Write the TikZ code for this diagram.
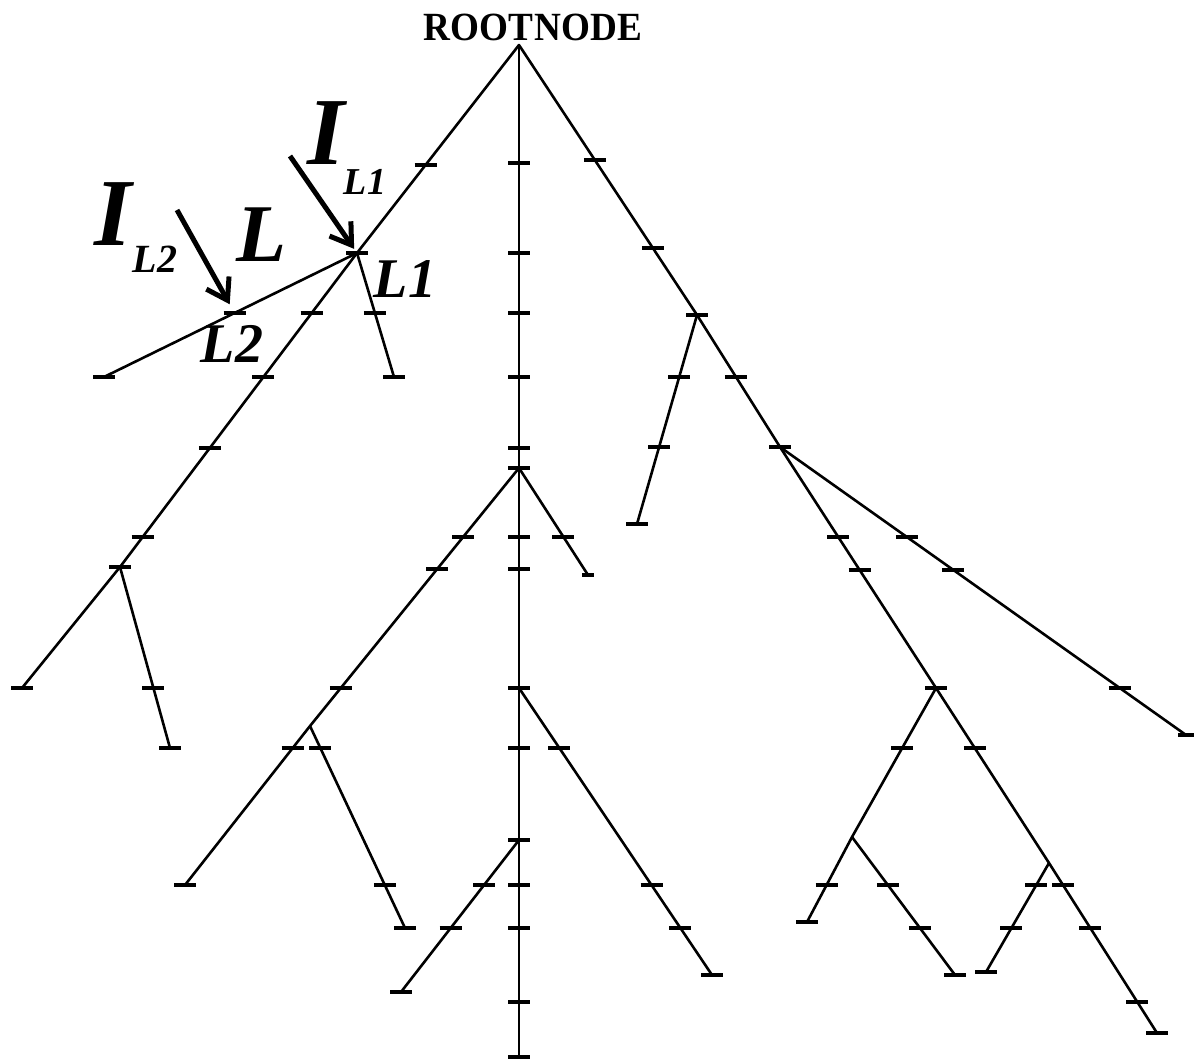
\documentclass[tikz,border=0pt]{standalone}
\usepackage{fontspec}
\setmainfont{Liberation Serif}
\usetikzlibrary{calc,arrows.meta}
\tikzset{
  br/.style={line width=1.3pt, line cap=round},
  tick/.style={line width=1.7pt},
  arr/.style={line width=2.5pt, -{Straight Barb[length=10pt,width=13pt]}},
  lbl/.style={inner sep=0pt, outer sep=0pt, anchor=center, font=\bfseries\itshape}
}
\newcommand\tk[1]{\draw[tick] ([xshift=-5.5pt]#1) -- ([xshift=5.5pt]#1);}
\newcommand\tkY[3]{\coordinate (tmp) at (intersection of #1--#2 and 0,#3--1,#3);\tk{tmp}}
\begin{document}
\begin{tikzpicture}[x=0.5pt,y=-0.5pt]
\fill[white] (0,0) rectangle (1198,1059);
\useasboundingbox (0,0) rectangle (1198,1059);
% branch points
\coordinate (root) at (519,45);
\coordinate (L1) at (357,253);
\coordinate (Lend) at (104,377);
\coordinate (L1e) at (394,377);
\coordinate (A) at (120,567);
\coordinate (Ae1) at (22,688);
\coordinate (Ae2) at (170,748);
\coordinate (C1) at (519,468);
\coordinate (C2) at (519,688);
\coordinate (C3) at (519,840);
\coordinate (Ce) at (519,1057);
\coordinate (B) at (310,726);
\coordinate (Be1) at (185,885);
\coordinate (Be2) at (405,928);
\coordinate (C1e) at (588,575);
\coordinate (C2e) at (712,975);
\coordinate (C3e) at (401,992);
\coordinate (R1) at (697,315);
\coordinate (R1e) at (637,524);
\coordinate (R2) at (780,447);
\coordinate (R2e) at (1186,735);
\coordinate (R3) at (936,688);
\coordinate (R4) at (852,837);
\coordinate (R4e1) at (807,922);
\coordinate (R4e2) at (955,975);
\coordinate (R5) at (1049,863);
\coordinate (R5e) at (1157,1033);
\coordinate (R5e2) at (986,972);
\coordinate (L2) at (intersection of L1--Lend and 0,313--1,313);
% branches
\draw[br] (root) -- (L1) -- (A) -- (Ae1);
\draw[br] (L1) -- (Lend);
\draw[br] (L1) -- (L1e);
\draw[br] (A) -- (Ae2);
\draw[br] (root) -- (Ce);
\draw[br] (C1) -- (B) -- (Be1);
\draw[br] (B) -- (Be2);
\draw[br] (C1) -- (C1e);
\draw[br] (C2) -- (C2e);
\draw[br] (C3) -- (C3e);
\draw[br] (root) -- (R1) -- (R2) -- (R3) -- (R5) -- (R5e);
\draw[br] (R1) -- (R1e);
\draw[br] (R2) -- (R2e);
\draw[br] (R3) -- (R4) -- (R4e1);
\draw[br] (R4) -- (R4e2);
\draw[br] (R5) -- (R5e2);
% ticks at points
\foreach \p in {L1,L2,Lend,L1e,A,Ae1,Ae2,C1,C2,C3,Ce,Be1,Be2,C2e,C3e,R1,R1e,R2,R3,R4e1,R4e2,R5e,R5e2}{\tk{\p}}
\draw[tick] ([xshift=-3pt]C1e) -- ([xshift=3pt]C1e);
\draw[tick] ([xshift=-4pt]R2e) -- ([xshift=4pt]R2e);
% ticks along branches
\tkY{root}{L1}{165}
\tkY{L1}{L1e}{313}
\foreach \y in {313,377,448,537}{\tkY{L1}{A}{\y}}
\tkY{A}{Ae2}{688}
\foreach \y in {163,253,313,377,448,537,569,748,885,928,1002}{\tkY{root}{Ce}{\y}}
\foreach \y in {537,569,688}{\tkY{C1}{B}{\y}}
\tkY{B}{Be1}{748}
\foreach \y in {748,885}{\tkY{B}{Be2}{\y}}
\tkY{C1}{C1e}{537}
\foreach \y in {748,885,928}{\tkY{C2}{C2e}{\y}}
\foreach \y in {885,928}{\tkY{C3}{C3e}{\y}}
\foreach \y in {160,248}{\tkY{root}{R1}{\y}}
\foreach \y in {377,447}{\tkY{R1}{R1e}{\y}}
\tkY{R1}{R2}{377}
\foreach \y in {537,570}{\tkY{R2}{R3}{\y}}
\foreach \y in {537,570,688}{\tkY{R2}{R2e}{\y}}
\tkY{R3}{R4}{748}
\tkY{R4}{R4e1}{885}
\foreach \y in {885,928}{\tkY{R4}{R4e2}{\y}}
\tkY{R3}{R5}{748}
\foreach \y in {885,928,1002}{\tkY{R5}{R5e}{\y}}
\foreach \y in {885,928}{\tkY{R5}{R5e2}{\y}}
% arrows
\coordinate (a1) at (290,156);
\coordinate (a2) at (177,210);
\draw[arr, shorten >=2.5pt] (a1) -- (L1);
\draw[arr, shorten >=5pt] (a2) -- (L2);
% labels
\node[inner sep=0pt, anchor=center] (rootlbl) at (533,27) {\fontsize{20}{22}\selectfont\bfseries\scalebox{0.93}[1]{ROOT\kern1pt NODE}};
\node[lbl] (IL1) at (326,133) {\fontsize{48}{50}\selectfont I};
\node[lbl] (IL1s) at (365,182) {\fontsize{19}{21}\selectfont L1};
\node[lbl] (IL2) at (113,214) {\fontsize{48}{50}\selectfont I};
\node[lbl] (IL2s) at (155,259) {\fontsize{20}{22}\selectfont L2};
\node[lbl] (Llbl) at (262,235) {\fontsize{41}{43}\selectfont L};
\node[lbl] (L1lbl) at (405,279) {\fontsize{28}{30}\selectfont L1};
\node[lbl] (L2lbl) at (232,344) {\fontsize{28}{30}\selectfont L2};
\end{tikzpicture}
\end{document}
